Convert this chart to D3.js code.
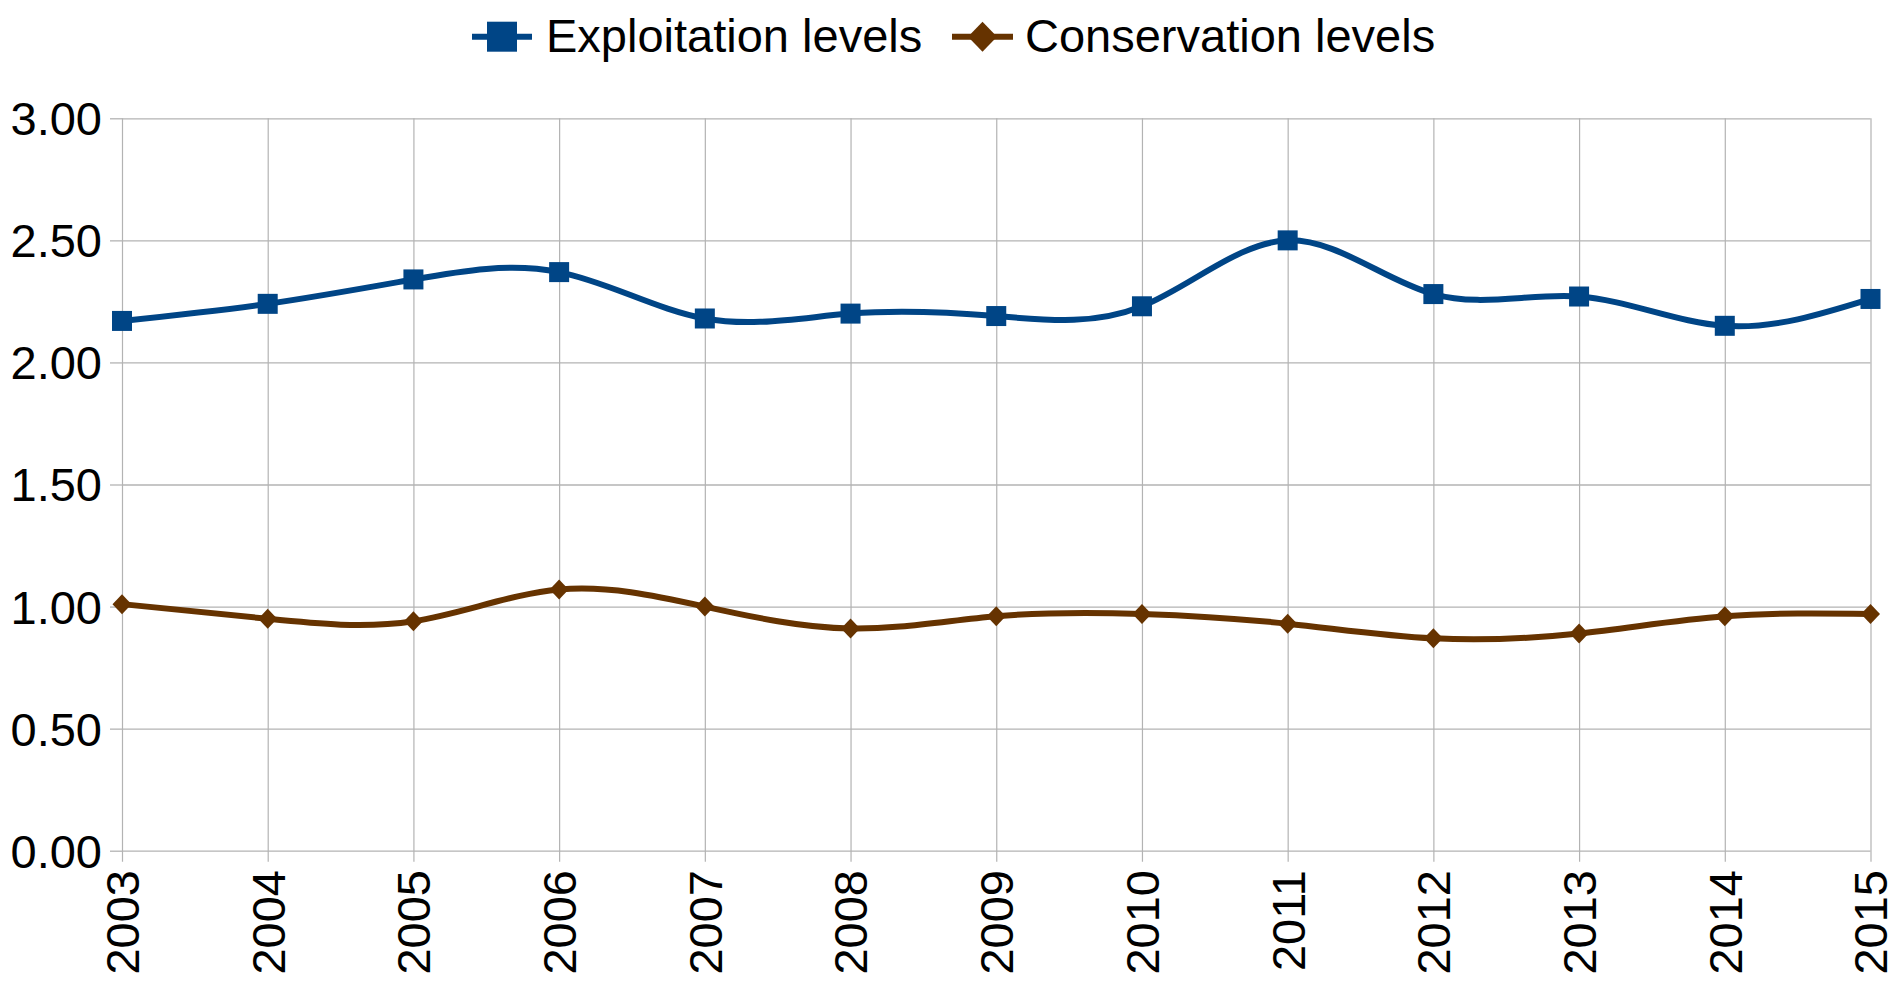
<!DOCTYPE html>
<html>
<head>
<meta charset="utf-8">
<script src="https://cdn.jsdelivr.net/npm/d3@7"></script>
<style>
  html, body { margin: 0; padding: 0; background: #fff; }
  svg { display: block; font-family: "Liberation Sans", Arial, sans-serif; }
</style>
</head>
<body>
<svg id="chart" width="1888" height="990"></svg>
<script>
// Yearly levels for the two indicators
const years = ["2003", "2004", "2005", "2006", "2007", "2008", "2009", "2010", "2011", "2012", "2013", "2014", "2015"];
const exploitation = [2.17, 2.24, 2.34, 2.37, 2.18, 2.20, 2.19, 2.23, 2.50, 2.28, 2.27, 2.15, 2.26];
const conservation = [1.01, 0.95, 0.94, 1.07, 1.00, 0.91, 0.96, 0.97, 0.93, 0.87, 0.89, 0.96, 0.97];
const yTicks = [0, 0.5, 1, 1.5, 2, 2.5, 3];
const seriesNames = ["Exploitation levels", "Conservation levels"];

const blue = "#004586";
const brown = "#663300";
const grid = "#b3b3b3";

const svg = d3.select("#chart");
const plot = { left: 122, right: 1870.5, top: 118.3, bottom: 850.7 };

const x = d3.scalePoint().domain(years).range([plot.left, plot.right]);
const y = d3.scaleLinear().domain([0, 3]).range([plot.bottom, plot.top]);

// Horizontal grid + y axis
const yAxis = d3.axisLeft(y).tickValues(yTicks).tickFormat(d3.format(".2f"))
  .tickSize(plot.right - plot.left).tickSizeOuter(0).tickPadding(8);
const gy = svg.append("g").attr("transform", `translate(${plot.right},0)`).call(yAxis);
gy.select(".domain").remove();
gy.selectAll(".tick line").attr("stroke", grid).attr("stroke-width", 1.3);
gy.selectAll(".tick text").attr("font-size", 47).attr("fill", "#000")
  .attr("font-family", "Liberation Sans, Arial, sans-serif")
  .attr("x", -(plot.right - plot.left) - 20).attr("dy", "0.35em");
// outward tick stubs on the left
gy.selectAll(".tick").append("line")
  .attr("x1", -(plot.right - plot.left) - 12).attr("x2", -(plot.right - plot.left))
  .attr("stroke", grid).attr("stroke-width", 1.3);

// Vertical grid + x axis
const xAxis = d3.axisBottom(x).tickSize(plot.bottom - plot.top + 11).tickSizeOuter(0).tickFormat(d => d);
const gx = svg.append("g").attr("transform", `translate(0,${plot.top})`).call(xAxis);
gx.select(".domain").remove();
gx.selectAll(".tick line").attr("stroke", grid).attr("stroke-width", 1.2);
gx.selectAll(".tick text")
  .attr("font-size", 47).attr("fill", "#000")
  .attr("font-family", "Liberation Sans, Arial, sans-serif")
  .attr("text-anchor", "end")
  .attr("y", 0).attr("dy", "0.35em")
  .attr("transform", `translate(0,${870 - plot.top}) rotate(-90)`);

// Series lines (cubic spline) with markers
const line = d3.line().x((d, i) => x(years[i])).y(d => y(d)).curve(d3.curveNatural);

function drawSeries(values, color, shape) {
  svg.append("path").datum(values)
    .attr("d", line).attr("fill", "none")
    .attr("stroke", color).attr("stroke-width", 6).attr("stroke-linejoin", "round");
  const g = svg.append("g");
  values.forEach((v, i) => {
    const cx = x(years[i]), cy = y(v);
    if (shape === "square") {
      g.append("rect").attr("x", cx - 10).attr("y", cy - 10)
        .attr("width", 20).attr("height", 20).attr("fill", color);
    } else {
      g.append("path").attr("d", `M${cx},${cy - 10}L${cx + 9.5},${cy}L${cx},${cy + 10}L${cx - 9.5},${cy}Z`)
        .attr("fill", color);
    }
  });
}
drawSeries(exploitation, blue, "square");
drawSeries(conservation, brown, "diamond");

// Legend
const legend = svg.append("g");
const legendItems = [
  { name: seriesNames[0], color: blue, shape: "square", x0: 472, x1: 532, tx: 546 },
  { name: seriesNames[1], color: brown, shape: "diamond", x0: 952, x1: 1013, tx: 1025 }
];
const ly = 36.7;
legendItems.forEach(it => {
  legend.append("line").attr("x1", it.x0).attr("x2", it.x1).attr("y1", ly).attr("y2", ly)
    .attr("stroke", it.color).attr("stroke-width", 6);
  const cx = (it.x0 + it.x1) / 2;
  if (it.shape === "square") {
    legend.append("rect").attr("x", cx - 15).attr("y", ly - 15)
      .attr("width", 30).attr("height", 30).attr("fill", it.color);
  } else {
    legend.append("path").attr("d", `M${cx},${ly - 15}L${cx + 14.5},${ly}L${cx},${ly + 15}L${cx - 14.5},${ly}Z`)
      .attr("fill", it.color);
  }
  legend.append("text").attr("x", it.tx).attr("y", 51.7)
    .attr("font-size", 47).attr("fill", "#000").text(it.name);
});
</script>
</body>
</html>
